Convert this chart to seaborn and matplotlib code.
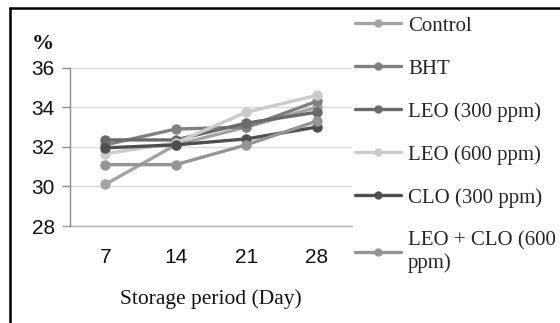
import matplotlib
matplotlib.use("Agg")
import matplotlib.pyplot as plt
from matplotlib.lines import Line2D
import seaborn as sns
import pandas as pd

days = [7, 14, 21, 28]
treatments = ["Control", "BHT", "LEO (300 ppm)", "LEO (600 ppm)",
              "CLO (300 ppm)", "LEO + CLO (600\nppm)"]
control = [30.1, 32.1, 33.0, 34.0]
bht = [32.1, 32.9, 33.0, 34.3]
leo_300 = [32.35, 32.35, 33.2, 33.75]
leo_600 = [31.65, 32.2, 33.75, 34.6]
clo_300 = [31.95, 32.1, 32.4, 33.0]
leo_clo_600 = [31.1, 31.1, 32.1, 33.3]
series = [control, bht, leo_300, leo_600, clo_300, leo_clo_600]
colors = ["#a3a3a3", "#808080", "#6a6a6a", "#cbcbcb", "#4f4f4f", "#959595"]

rows = []
for name, vals in zip(treatments, series):
    for d, v in zip(days, vals):
        rows.append({"day": d, "value": v, "treatment": name})
df = pd.DataFrame(rows)

sns.set_theme(style="white")
plt.rcParams["font.family"] = ["Liberation Sans", "DejaVu Sans"]

fig = plt.figure(figsize=(5.6, 3.23), dpi=100)
ax = fig.add_axes([70 / 560, 1 - 226 / 323, 282 / 560, (226 - 67.7) / 323])

sns.lineplot(data=df, x="day", y="value", hue="treatment", hue_order=treatments,
             palette=colors, marker="o", markersize=7.5, markeredgewidth=0,
             linewidth=2.4, ax=ax, legend=False)

ax.set_xlim(3.5, 31.5)
ax.set_ylim(28, 36)
ax.set_yticks([28, 30, 32, 34, 36])
ax.set_xticks(days)
ax.set_xticklabels([str(d) for d in days])
ax.yaxis.grid(True, color="#d9d9d9", linewidth=1.0)
ax.set_axisbelow(True)
for side in ["top", "right", "bottom"]:
    ax.spines[side].set_visible(False)
ax.spines["left"].set_color("#8c8c8c")
ax.spines["left"].set_linewidth(1.0)
ax.tick_params(axis="y", which="major", left=True, length=6, width=1.0,
               color="#8c8c8c", labelsize=15, pad=5, labelcolor="#111111")
ax.tick_params(axis="x", bottom=False, labelsize=15, pad=10, labelcolor="#111111")
ax.set_xlabel("Storage period (Day)", fontsize=15.5, family="Liberation Serif",
              labelpad=16, color="#111111")
ax.set_ylabel("")
ax.axhline(28, color="#b0b0b0", linewidth=1.0, xmin=-0.025, clip_on=False)

fig.text(43 / 560, 1 - 44 / 323, "%", fontsize=16, fontweight="bold",
         family="Liberation Serif", ha="center", va="center", color="#111111")

handles = [Line2D([0], [0], color=c, marker="o", markersize=6, markeredgewidth=0,
                  linewidth=2.4) for c in colors]
fig.legend(handles, treatments, loc="upper left",
           bbox_to_anchor=(355 / 560, 1 - 16 / 323), frameon=False,
           prop={"family": "Liberation Serif", "size": 15},
           handlelength=2.2, handletextpad=0.35, labelspacing=1.12,
           borderpad=0, borderaxespad=0)

# outer frame lines at the left and top edges
fig.add_artist(Line2D([10 / 560, 10 / 560], [0, 1 - 8 / 323], color="black",
                      linewidth=1.8, transform=fig.transFigure))
fig.add_artist(Line2D([10 / 560, 1], [1 - 8 / 323, 1 - 8 / 323], color="black",
                      linewidth=1.8, transform=fig.transFigure))

fig.savefig("out.png", dpi=100, facecolor="white")
